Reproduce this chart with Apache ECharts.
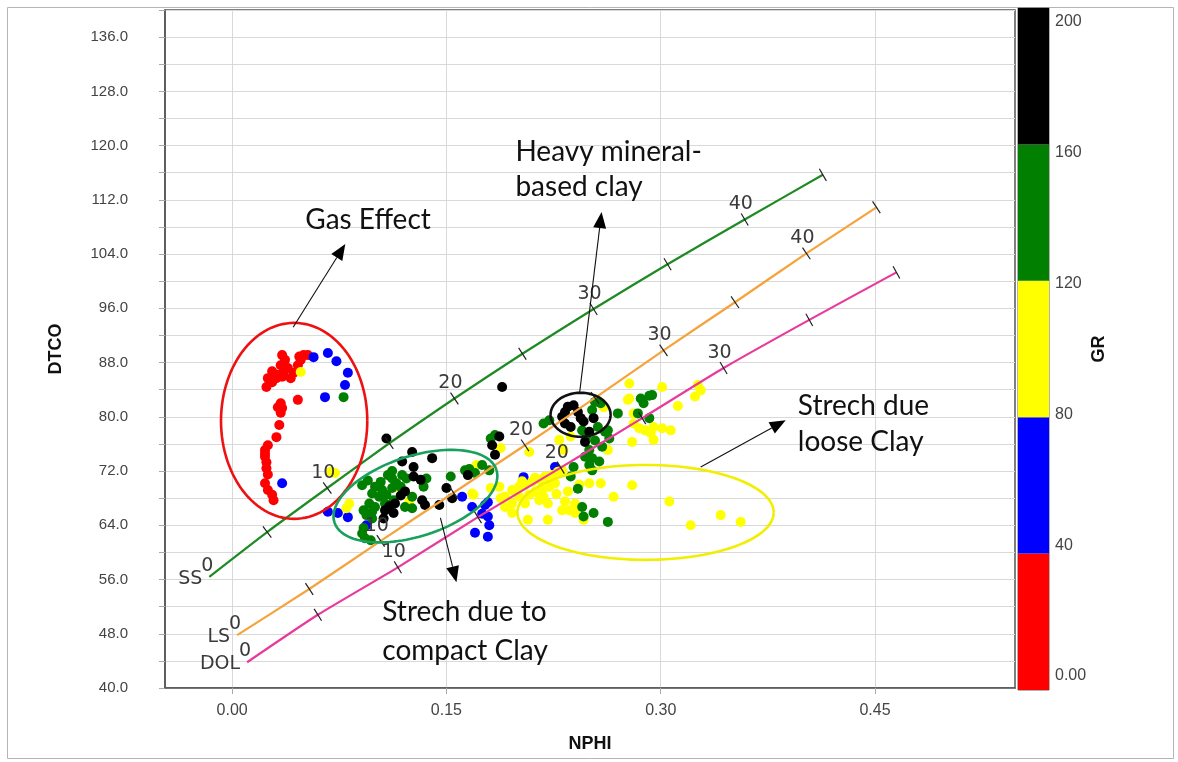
<!DOCTYPE html>
<html>
<head>
<meta charset="utf-8">
<script src="https://cdn.jsdelivr.net/npm/echarts@6/dist/echarts.min.js"></script>
<style>
  html, body { margin: 0; padding: 0; background: #fff; }
  #chart { width: 1178px; height: 762px; }
</style>
</head>
<body>
<div id="chart"></div>
<script>
// ---- Axis ticks ----
const nphiTicks = [0, 0.15, 0.30, 0.45];
const grTicks = [0, 40, 80, 120, 160, 200];
const grColors = ['#ff0000', '#0000ff', '#ffff00', '#007f00', '#000000'];

// ---- NPHI / DTCO samples, grouped by GR band ----
const grRed = [ // GR 0-40
  [0.035,89.1],[0.037,88.4],[0.034,87.6],[0.039,87.2],[0.036,86.5],[0.032,86.2],[0.028,86.7],
  [0.025,85.7],[0.024,84.4],[0.028,85.1],[0.031,85.7],[0.035,85.9],[0.041,85.7],[0.043,86.5],
  [0.046,87.6],[0.048,88.4],[0.050,89.1],[0.047,88.9],[0.053,89.1],[0.046,82.5],[0.034,82.0],
  [0.035,81.3],[0.032,81.4],[0.034,80.6],[0.033,78.8],[0.031,77.0],[0.025,75.8],[0.023,75.1],
  [0.023,74.1],[0.024,73.3],[0.024,72.4],[0.023,70.2],[0.025,69.2],[0.028,68.5],[0.029,67.7],
  [0.023,74.6],[0.025,71.5]
];
const grBlue = [ // GR 40-80
  [0.057,88.8],[0.067,89.4],[0.073,88.2],[0.081,86.5],[0.079,84.7],[0.065,82.9],[0.035,70.2],
  [0.067,66.0],[0.074,65.8],[0.081,65.2],[0.094,64.0],[0.161,68.2],[0.168,66.7],[0.177,67.0],
  [0.175,65.7],[0.180,64.0],[0.170,62.9],[0.179,62.3],[0.204,71.1],[0.226,72.6],[0.179,67.4],
  [0.179,65.3]
];
const grYellow = [ // GR 80-120
  [0.048,86.6],[0.069,71.9],[0.072,71.7],[0.082,67.2],[0.080,66.5],[0.115,69.7],[0.124,67.5],
  [0.169,68.5],[0.171,72.9],[0.168,68.7],[0.181,69.5],[0.187,69.7],[0.188,68.0],[0.188,75.4],
  [0.191,68.2],[0.196,69.2],[0.201,69.7],[0.205,69.9],[0.210,70.4],[0.215,70.7],[0.219,71.2],
  [0.224,71.4],[0.228,71.9],[0.231,72.1],[0.201,68.2],[0.208,68.5],[0.212,68.9],[0.217,69.2],
  [0.222,69.7],[0.226,70.2],[0.191,66.7],[0.196,67.2],[0.205,67.2],[0.215,67.7],[0.221,67.2],
  [0.233,67.5],[0.231,66.2],[0.236,66.2],[0.240,67.2],[0.207,64.8],[0.196,65.8],[0.240,65.8],
  [0.229,76.6],[0.237,77.1],[0.232,75.1],[0.208,74.8],[0.258,70.2],[0.250,70.2],[0.267,68.2],
  [0.278,84.9],[0.278,82.7],[0.280,76.3],[0.281,80.5],[0.280,69.9],[0.301,84.4],[0.326,84.7],
  [0.328,83.9],[0.324,83.0],[0.312,81.6],[0.277,82.5],[0.281,79.0],[0.285,78.3],[0.289,78.0],
  [0.295,78.5],[0.301,78.3],[0.307,78.0],[0.293,77.6],[0.295,76.6],[0.263,75.1],[0.306,67.5],
  [0.321,64.0],[0.342,65.5],[0.356,64.5],[0.260,81.4],[0.221,64.8],[0.246,64.8],[0.212,71.0],
  [0.203,70.5],[0.198,68.8],[0.218,68.2],[0.227,68.6],[0.235,69.0],[0.243,70.0]
];
const grGreen = [ // GR 120-160
  [0.078,82.9],
  [0.091,69.9],[0.100,69.7],[0.105,69.2],[0.098,68.7],[0.103,68.2],[0.108,68.5],[0.112,69.5],
  [0.115,70.2],[0.119,71.4],[0.122,70.9],[0.112,70.9],[0.118,69.7],[0.096,67.2],[0.100,66.7],
  [0.098,66.0],[0.094,65.5],[0.098,65.0],[0.092,63.6],[0.091,62.8],[0.093,62.1],[0.097,61.8],
  [0.107,67.2],[0.113,67.7],[0.121,66.7],[0.126,66.5],[0.136,70.9],[0.134,69.7],[0.153,71.2],
  [0.163,72.1],[0.175,72.9],[0.180,72.1],[0.181,76.8],[0.184,77.3],[0.112,72.0],[0.126,68.2],
  [0.092,66.2],[0.104,70.4],[0.109,71.4],[0.095,70.6],[0.166,72.3],[0.170,71.7],
  [0.218,79.0],[0.222,79.5],[0.254,82.2],[0.258,82.0],[0.252,81.0],[0.245,78.0],[0.256,78.5],
  [0.261,77.8],[0.264,76.8],[0.259,75.6],[0.250,75.1],[0.247,74.1],[0.252,73.9],[0.257,73.4],
  [0.250,72.9],[0.252,72.1],[0.239,72.6],[0.237,71.2],[0.242,69.4],[0.245,66.7],[0.246,65.3],
  [0.253,65.8],[0.263,64.5],[0.270,80.5],[0.286,82.7],[0.294,83.2],[0.292,83.1],[0.288,82.0],
  [0.284,80.5],[0.292,79.8],[0.263,78.0],[0.254,76.5],[0.248,77.2]
];
const grBlack = [ // GR 160-200
  [0.189,84.4],[0.108,76.8],
  [0.126,74.8],[0.119,73.4],[0.127,72.6],[0.140,73.9],[0.127,71.2],[0.132,70.7],[0.121,69.0],
  [0.114,67.2],[0.107,66.2],[0.113,65.8],[0.106,65.0],[0.133,67.7],[0.135,67.0],[0.145,67.0],
  [0.150,69.5],[0.154,68.0],[0.184,74.4],[0.182,75.8],[0.187,77.1],[0.165,71.4],[0.110,66.8],
  [0.118,68.4],
  [0.235,81.5],[0.239,81.7],[0.233,80.7],[0.242,80.7],[0.244,79.8],[0.246,79.3],[0.233,79.0],
  [0.253,79.8],[0.250,77.8],[0.247,76.3],[0.237,78.5],[0.231,80.0]
];

// ---- Lithology lines: [NPHI, DTCO] at porosity 0, 5, 10, ... p.u. ----
const porosity = [0, 5, 10, 15, 20, 25, 30, 35, 40, 45];
const ssLine = [[-0.016,56.4],[0.0245,63.0],[0.0666,69.5],[0.110,76.1],[0.1556,82.7],
                [0.2032,89.3],[0.253,95.9],[0.3048,102.5],[0.3588,109.1],[0.4135,115.7]];
const lsLine = [[0.0035,47.8],[0.054,54.6],[0.104,61.7],[0.155,68.8],[0.205,75.8],
                [0.254,82.8],[0.302,89.8],[0.352,96.9],[0.402,104.1],[0.451,110.9]];
const dolLine = [[0.0105,43.8],[0.060,50.8],[0.116,57.8],[0.172,65.2],[0.230,72.5],
                 [0.287,79.8],[0.344,87.2],[0.404,94.3],[0.465,101.3]];

// ---- Callouts: ellipses [cx, cy, rx (NPHI), ry (DTCO), angle deg], arrows, notes ----
const calloutEllipses = [[0.0434,79.4,0.0512,14.45,0],[0.1283,68.3,0.0596,5.9,-18],
                         [0.2439,80.3,0.0210,3.24,0],[0.2894,65.9,0.0897,7.0,0]];
const ellipseColors = ['#ee1111', '#18a05c', '#111111', '#f2ee00'];
const calloutArrows = [[0.0427,93.2,0.0792,105.5],[0.2432,83.5,0.2586,110.2],
                       [0.328,72.6,0.3875,79.5],[0.1458,65.1,0.157,55.6]];
const calloutNotes = [['Gas Effect',0.0512,109.0],['Heavy mineral-',0.1983,119.0],['based clay',0.1983,113.9],
                      ['Strech due',0.396,81.6],['loose Clay',0.396,76.3],
                      ['Strech due to',0.1051,51.2],['compact Clay',0.1051,45.5]];

const baseFont = 'Liberation Sans, Arial, sans-serif';
const chart = echarts.init(document.getElementById('chart'), null, { renderer: 'canvas' });

function scatterSeries(pts, color) {
  return {
    type: 'scatter', xAxisIndex: 0, yAxisIndex: 0, data: pts, symbolSize: 10,
    itemStyle: { color: color, opacity: 1 }, z: 2, silent: true
  };
}

function lithoSeries(line, color) {
  return {
    type: 'line', xAxisIndex: 0, yAxisIndex: 0, data: line, showSymbol: false, smooth: 0.2,
    lineStyle: { color: color, width: 2.2 }, z: 4, silent: true
  };
}

function lithoMarks(line, name) {
  return {
    type: 'custom', xAxisIndex: 0, yAxisIndex: 0, data: line, z: 5, silent: true,
    encode: { x: 0, y: 1 },
    renderItem: function (params, api) {
      const i = params.dataIndex;
      const p = api.coord(line[i]);
      const a = api.coord(line[Math.max(i - 1, 0)]);
      const b = api.coord(line[Math.min(i + 1, line.length - 1)]);
      let dx = b[0] - a[0], dy = b[1] - a[1];
      const len = Math.hypot(dx, dy); dx /= len; dy /= len;
      const nx = -dy, ny = dx;
      const kids = [];
      const txt = { fontFamily: 'DejaVu Sans, sans-serif', fontSize: 19, fill: '#3a3a3a' };
      if (i > 0) {
        kids.push({ type: 'line', shape: { x1: p[0] - nx * 7, y1: p[1] - ny * 7, x2: p[0] + nx * 7, y2: p[1] + ny * 7 },
                    style: { stroke: '#222', lineWidth: 1.2 } });
      }
      if (i === 0) {
        kids.push({ type: 'text', x: p[0] - 7, y: p[1] + 2,
                    style: Object.assign({ text: name, align: 'right', verticalAlign: 'middle' }, txt) });
        kids.push({ type: 'text', x: p[0] - 2, y: p[1] - 11,
                    style: Object.assign({ text: '0', align: 'center', verticalAlign: 'middle' }, txt) });
      } else if (porosity[i] % 10 === 0 && i < line.length - 1) {
        kids.push({ type: 'text', x: p[0] - 4, y: p[1] - 15,
                    style: Object.assign({ text: String(porosity[i]), align: 'center', verticalAlign: 'middle' }, txt) });
      }
      return { type: 'group', children: kids };
    }
  };
}

const ellipseSeries = {
  type: 'custom', xAxisIndex: 0, yAxisIndex: 0, data: calloutEllipses, z: 6, silent: true,
  encode: { x: 0, y: 1 },
  renderItem: function (params, api) {
    const c = api.coord([api.value(0), api.value(1)]);
    const s = api.size([api.value(2), api.value(3)]);
    const rot = api.value(4) * Math.PI / 180;
    const pts = [];
    for (let k = 0; k <= 120; k++) {
      const t = k / 120 * 2 * Math.PI;
      const x = s[0] * Math.cos(t), y = s[1] * Math.sin(t);
      pts.push([c[0] + x * Math.cos(rot) - y * Math.sin(rot), c[1] + x * Math.sin(rot) + y * Math.cos(rot)]);
    }
    return { type: 'polyline', shape: { points: pts },
             style: { fill: null, stroke: ellipseColors[params.dataIndex], lineWidth: 2.6 } };
  }
};

const arrowSeries = {
  type: 'custom', xAxisIndex: 0, yAxisIndex: 0, data: calloutArrows, z: 6, silent: true,
  encode: { x: [0, 2], y: [1, 3] },
  renderItem: function (params, api) {
    const p1 = api.coord([api.value(0), api.value(1)]);
    const p2 = api.coord([api.value(2), api.value(3)]);
    let dx = p2[0] - p1[0], dy = p2[1] - p1[1];
    const len = Math.hypot(dx, dy); dx /= len; dy /= len;
    const head = 16, half = 6.5;
    const bx = p2[0] - dx * head, by = p2[1] - dy * head;
    return { type: 'group', children: [
      { type: 'line', shape: { x1: p1[0], y1: p1[1], x2: bx, y2: by }, style: { stroke: '#111', lineWidth: 1.1 } },
      { type: 'polygon', shape: { points: [[p2[0], p2[1]], [bx - dy * half, by + dx * half], [bx + dy * half, by - dx * half]] },
        style: { fill: '#000' } }
    ] };
  }
};

const noteSeries = {
  type: 'custom', xAxisIndex: 0, yAxisIndex: 0, z: 7, silent: true,
  data: calloutNotes.map(n => [n[1], n[2]]),
  encode: { x: 0, y: 1 },
  renderItem: function (params, api) {
    const p = api.coord([api.value(0), api.value(1)]);
    return { type: 'text', x: p[0], y: p[1],
             style: { text: calloutNotes[params.dataIndex][0], fontFamily: 'Lato, Open Sans, sans-serif',
                      fontSize: 28, fill: '#111', align: 'left', verticalAlign: 'middle' } };
  }
};

const barSeries = grColors.map((c, k) => ({
  type: 'bar', xAxisIndex: 1, yAxisIndex: 1, stack: 'gr', barWidth: '100%',
  data: [grTicks[k + 1] - grTicks[k]], itemStyle: { color: c }, silent: true
}));

const option = {
  animation: false,
  backgroundColor: '#ffffff',
  graphic: [{
    type: 'rect', shape: { x: 7.5, y: 7.5, width: 1166, height: 751 },
    style: { fill: 'none', stroke: '#b5b5b5', lineWidth: 1 }, z: -10
  }],
  grid: [
    { left: 165, top: 10, width: 850, height: 678, show: true, borderColor: '#555', borderWidth: 1.5 },
    { left: 1018, top: 8, width: 31, height: 682, show: true, borderColor: '#666', borderWidth: 1 }
  ],
  xAxis: [
    {
      type: 'value', gridIndex: 0, min: -0.047, max: 0.548,
      name: 'NPHI', nameLocation: 'middle', nameGap: 47,
      nameTextStyle: { fontFamily: baseFont, fontWeight: 'bold', fontSize: 18, color: '#111' },
      axisLine: { show: true, onZero: false, lineStyle: { color: '#555', width: 1.5 } },
      axisTick: { show: true, customValues: nphiTicks, length: 6, lineStyle: { color: '#aaa' } },
      axisLabel: { customValues: nphiTicks, formatter: v => v.toFixed(2), fontFamily: baseFont,
                   fontSize: 16, color: '#444', margin: 15 },
      splitLine: { show: true, lineStyle: { color: '#d9d9d9', width: 1 } }
    },
    { type: 'category', gridIndex: 1, data: ['GR'], show: false }
  ],
  yAxis: [
    {
      type: 'value', gridIndex: 0, min: 40, max: 140, interval: 4,
      name: 'DTCO', nameLocation: 'middle', nameGap: 100, nameRotate: 90,
      nameTextStyle: { fontFamily: baseFont, fontWeight: 'bold', fontSize: 18, color: '#111' },
      axisLine: { show: true, onZero: false, lineStyle: { color: '#555', width: 1.5 } },
      axisTick: { show: true, length: 6, lineStyle: { color: '#aaa' } },
      axisLabel: { formatter: v => ((v - 40) % 8 === 0 ? v.toFixed(1) : ''), fontFamily: baseFont,
                   fontSize: 15, color: '#444', margin: 37 },
      splitLine: { show: true, lineStyle: { color: '#d9d9d9', width: 1 } }
    },
    { type: 'value', gridIndex: 1, min: 0, max: 200, show: false },
    {
      type: 'value', gridIndex: 1, position: 'right', min: -4.3, max: 204.3,
      name: 'GR', nameLocation: 'middle', nameRotate: 90, nameGap: 40,
      nameTextStyle: { fontFamily: baseFont, fontWeight: 'bold', fontSize: 18, color: '#111' },
      axisLine: { show: false }, axisTick: { show: false }, splitLine: { show: false },
      axisLabel: { customValues: grTicks, formatter: v => (v === 0 ? '0.00' : String(v)),
                   fontFamily: baseFont, fontSize: 16, color: '#444', margin: 6 }
    }
  ],
  series: [
    scatterSeries(grRed, grColors[0]),
    scatterSeries(grBlue, grColors[1]),
    scatterSeries(grYellow, grColors[2]),
    scatterSeries(grGreen, grColors[3]),
    scatterSeries(grBlack, grColors[4]),
    lithoSeries(ssLine, '#1f8a24'),
    lithoSeries(lsLine, '#f5a33a'),
    lithoSeries(dolLine, '#e8399c'),
    lithoMarks(ssLine, 'SS'),
    lithoMarks(lsLine, 'LS'),
    lithoMarks(dolLine, 'DOL'),
    ellipseSeries,
    arrowSeries,
    noteSeries
  ].concat(barSeries)
};

chart.setOption(option);
</script>
</body>
</html>
